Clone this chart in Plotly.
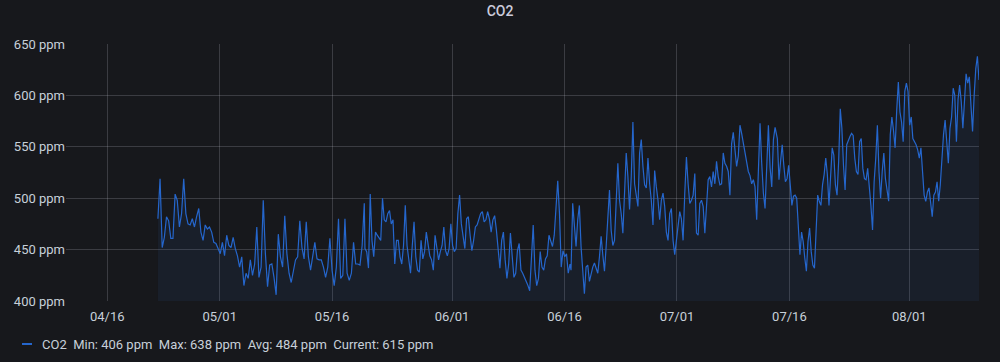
import plotly.graph_objects as go
import pandas as pd

# CO2 readings (ppm) in four consecutive stretches
co2_apr_may = [480,519,452,462,482,478,461,461,504,498,472,485,519,485,475,474,480,472,482,490,
               467,459,474,470,472,467,457,456,451,446,457,444,464,454,452,462,451,444,433,443,
               415,427,422,440,425,436,472,423,433,498,446,414,435,436,423,406,465,443,433,483,
               446,427,418,430,440,443,478,452,441,477,443,430,443,457,441,440,440,433,423,433,
               461,430,415,433,480,422,425,480,427,420,427,457,436,436,435,454,495]
co2_may_jun = [451,448,432,504,459,443,467,464,461,459,500,479,477,485,488,475,479,436,459,459,
               443,436,454,493,454,438,427,454,477,443,430,428,459,441,448,467,456,444,440,430,
               464,451,440,448,454,472,449,444,451,475,454,448,451,485,503,475,462,451,480,482,
               464,449,459,472,474,479,485,487,477,479,487,480,467,479,483,469,446,432,459,467,
               440,422,436,466,444,423,427,449,456,430,427,423,420,415,410,440,474,430,415,422,
               448,433,430,441,444,464,459,453,464,495,517,485,433,449,443,446,427,436]
co2_jun_jul = [430,495,472,453,479,493,453,424,407,433,435,419,427,433,437,432,427,443,463,445,
               429,453,482,508,469,454,459,495,534,498,485,466,505,544,521,489,521,574,514,505,
               492,544,557,531,513,510,539,514,498,474,527,511,498,479,498,505,492,467,459,485,
               490,459,445,459,472,487,480,459,505,540,514,495,498,503,524,466,464,495,498,492,
               466,498,518,521,511,526,514,536,521,513,514,544,534,531,526,503,553,564,544,531,
               541,571,563,553,545,537,526,522,514,518,511,479,534,573,534,505,490,534,571,530,
               511,557,569]
co2_jul_aug = [558,518,536,552,532,516,519,532,513,493,502,503,500,477,445,467,458,442,429,458,
               471,448,435,432,474,503,497,493,513,523,539,523,493,529,549,542,513,503,536,587,
               568,532,508,552,557,560,563,561,539,526,523,555,558,529,519,518,529,513,493,469,
               516,539,571,526,500,526,544,519,510,497,562,579,566,549,586,613,584,574,555,604,
               612,604,571,579,558,555,552,547,539,549,523,503,497,506,510,497,482,503,506,516,
               497,513,542,562,576,555,534,568,579,607,600,555,596,610,594,568,600,621,612,618,
               591,565,600,626,638,615]

segments = [co2_apr_may, co2_may_jun, co2_jun_jul, co2_jul_aug]
segment_starts = ["2023-04-22 18:15", "2023-05-20 09:10", "2023-06-16 20:50", "2023-07-14 09:25"]
segment_ends = ["2023-05-20 07:00", "2023-06-16 17:35", "2023-07-14 02:10", "2023-08-10 07:00"]

tick_dates = ["2023-04-16", "2023-05-01", "2023-05-16", "2023-06-01",
              "2023-06-16", "2023-07-01", "2023-07-16", "2023-08-01"]
tick_labels = ["04/16", "05/01", "05/16", "06/01", "06/16", "07/01", "07/16", "08/01"]
x_range = ["2023-04-10 12:00", "2023-08-10 07:00"]

legend_text = "CO2\u00a0\u00a0Min: 406 ppm\u00a0\u00a0Max: 638 ppm\u00a0\u00a0Avg: 484 ppm\u00a0\u00a0Current: 615 ppm"

times, values = [], []
for arr, s, e in zip(segments, segment_starts, segment_ends):
    times += list(pd.date_range(s, e, periods=len(arr)))
    values += arr

BG = "#17181c"
LINE = "#2566cc"
TXT = "#c7d0d9"
GRID = "rgba(204,204,220,0.2)"
FONT = "Roboto"

fig = go.Figure()
fig.add_trace(go.Scatter(
    x=times, y=values, mode="lines", name="CO2",
    line=dict(color=LINE, width=1.2),
    fill="tozeroy", fillcolor="rgba(50,116,217,0.08)",
    showlegend=False, hoverinfo="x+y",
))

W, H = 1000, 362
ml, mr, mt, mb = 66, 21, 44, 61
pw, ph = W - ml - mr, H - mt - mb

fig.update_layout(
    width=W, height=H,
    margin=dict(l=ml, r=mr, t=mt, b=mb),
    paper_bgcolor=BG, plot_bgcolor=BG,
    font=dict(family=FONT, color=TXT, size=13),
    title=dict(text="CO2", x=0.5, xref="container", xanchor="center",
               y=1 - 11 / H, yref="container", yanchor="middle",
               font=dict(size=14, color="#ccccdc", family=FONT, weight=500)),
    xaxis=dict(range=x_range, tickvals=tick_dates, ticktext=tick_labels,
               showgrid=True, gridcolor=GRID, gridwidth=1,
               zeroline=False, showline=False, ticks="",
               ticklabelstandoff=6,
               tickfont=dict(size=13, color=TXT)),
    yaxis=dict(range=[400, 650], dtick=50, tick0=400, ticksuffix=" ppm",
               showgrid=True, gridcolor=GRID, gridwidth=1,
               zeroline=False, showline=False, ticks="",
               tickfont=dict(size=13, color=TXT)),
)

leg_y = -(344 - (H - mb)) / ph
fig.add_shape(type="line", xref="paper", yref="paper",
              x0=(22 - ml) / pw, x1=(32 - ml) / pw, y0=leg_y, y1=leg_y,
              line=dict(color=LINE, width=2))
fig.add_annotation(text=legend_text, xref="paper", yref="paper",
                   x=(40 - ml) / pw, y=leg_y, xanchor="left", yanchor="middle",
                   showarrow=False, font=dict(size=13, color=TXT, family=FONT))

fig.write_html("out.html")
